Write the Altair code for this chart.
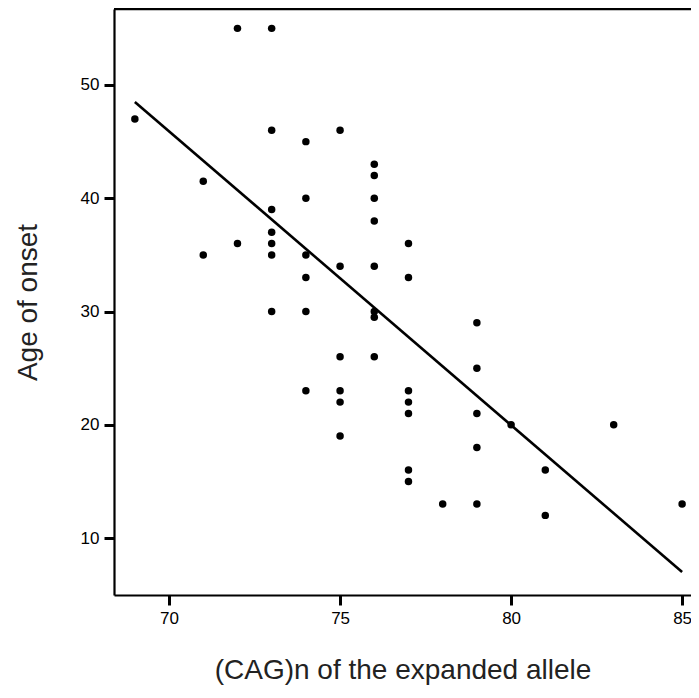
import altair as alt
import pandas as pd

# CAG repeat length (x) and age of onset (y)
cag = [69,
       71, 71,
       72, 72,
       73, 73, 73, 73, 73, 73, 73,
       74, 74, 74, 74, 74, 74,
       75, 75, 75, 75, 75, 75,
       76, 76, 76, 76, 76, 76, 76, 76,
       77, 77, 77, 77, 77, 77, 77,
       78,
       79, 79, 79, 79, 79,
       80,
       81, 81,
       83,
       85]
age = [47,
       41.5, 35,
       55, 36,
       55, 46, 39, 37, 36, 35, 30,
       45, 40, 35, 33, 30, 23,
       46, 34, 26, 23, 22, 19,
       43, 42, 40, 38, 34, 30, 29.5, 26,
       36, 33, 23, 22, 21, 16, 15,
       13,
       29, 25, 21, 18, 13,
       20,
       16, 12,
       20,
       13]

# regression line end points
fit_x = [69, 85]
fit_y = [48.5, 7.0]

x_ticks = [70, 75, 80, 85]
y_ticks = [10, 20, 30, 40, 50]

pts = pd.DataFrame({"cag": cag, "age": age})
fit = pd.DataFrame({"cag": fit_x, "age": fit_y})

W, H = 577, 586
xs = alt.Scale(domain=[68.39, 85.26], nice=False, zero=False)
ys = alt.Scale(domain=[4.97, 56.71], nice=False, zero=False)

common = dict(format="d", labelFont="Liberation Sans", labelFontSize=17,
              labelColor="black", labelPadding=5,
              titleFont="Liberation Sans", titleFontSize=28,
              titleFontWeight="normal", titleColor="#222222")

xenc = alt.X("cag:Q", scale=xs,
             axis=alt.Axis(values=x_ticks, title="(CAG)n of the expanded allele",
                           titlePadding=30, **common))
yenc = alt.Y("age:Q", scale=ys,
             axis=alt.Axis(values=y_ticks, title="Age of onset",
                           titlePadding=38, **common))

points = alt.Chart(pts).mark_circle(size=56, color="black", opacity=1).encode(
    x=xenc, y=yenc)
line = alt.Chart(fit).mark_line(color="black", strokeWidth=2.6).encode(
    x="cag:Q", y="age:Q")
top = alt.Chart(pd.DataFrame({"a": [0]})).mark_rule(
    color="black", strokeWidth=2.5).encode(
    x=alt.value(0), x2=alt.value(W), y=alt.value(0))

chart = alt.layer(points, line, top).properties(
    width=W, height=H,
    autosize=alt.AutoSizeParams(type="none"),
    padding={"left": 106, "top": 1, "right": 0, "bottom": 95},
).configure_view(stroke=None).configure_axis(
    grid=False,
    domainColor="black", domainWidth=2.2,
    tickColor="black", tickWidth=3, tickSize=10,
)

chart.save("out.html", embed_options={"renderer": "svg", "actions": False})
